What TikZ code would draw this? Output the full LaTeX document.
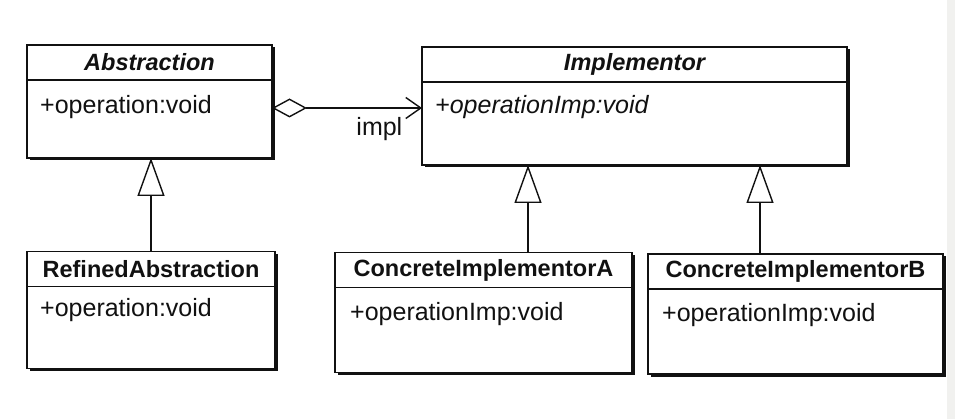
\documentclass[tikz,border=0pt]{standalone}
\usepackage{fontspec}
\setmainfont{Liberation Sans}
\usetikzlibrary{
  arrows.meta,
  positioning,
  shadows
}
\definecolor{umlInk}{HTML}{111111}
\definecolor{umlStrip}{HTML}{F1F1EF}
\tikzset{
  every node/.style={text=umlInk},
  boxline/.style={
    draw=umlInk,
    line width=1.5pt,
    fill=white,
    outer sep=0pt,
    inner sep=0pt,
    drop shadow={shadow xshift=2.5pt, shadow yshift=-2.5pt, fill=umlInk, opacity=1}
  },
  classhead/.style={
    boxline,
    minimum height=35pt,
    font=\fontsize{23.5}{26}\selectfont\bfseries
  },
  classbody/.style={
    boxline
  },
  member/.style={
    inner sep=0pt,
    font=\fontsize{25}{28}\selectfont
  },
  inherit/.style={
    -{Triangle[open, length=38pt, width=27pt]},
    line width=1.4pt,
    draw=umlInk
  },
  aggregate/.style={
    {Diamond[open, length=35pt, width=19pt]}-{Straight Barb[length=15pt, width=21pt]},
    line width=1.4pt,
    draw=umlInk
  }
}

\begin{document}
\begin{tikzpicture}[x=1pt, y=-1pt]
  \useasboundingbox (0,0) rectangle (955,419);
  \fill[umlStrip] (947,0) rectangle (955,419);

  % abstraction side
  \node[classhead, minimum width=245pt] (abshead) at (149.5,62.5) {\itshape Abstraction};
  \node[classbody, minimum width=245pt, minimum height=78pt, below=0pt of abshead] (absbody) {};
  \node[member, below right=15pt and 13pt of absbody.north west] (absop) {+operation:void};

  \node[classhead, minimum width=248pt] (refhead) at (151,269) {RefinedAbstraction};
  \node[classbody, minimum width=248pt, minimum height=82pt, below=0pt of refhead] (refbody) {};
  \node[member, below right=12pt and 13pt of refbody.north west] (refop) {+operation:void};

  % implementor side
  \node[classhead, minimum width=425pt] (implhead) at (634.5,64.5) {\itshape Implementor};
  \node[classbody, minimum width=425pt, minimum height=83pt, below=0pt of implhead] (implbody) {};
  \node[member, below right=13pt and 13pt of implbody.north west] (implop) {\itshape +operationImp:void};

  \node[classhead, minimum width=297pt] (ciahead) at (483.5,270) {ConcreteImplementorA};
  \node[classbody, minimum width=297pt, minimum height=85pt, below=0pt of ciahead] (ciabody) {};
  \node[member, below right=15pt and 15pt of ciabody.north west] (ciaop) {+operationImp:void};

  \node[classhead, minimum width=295pt] (cibhead) at (795.5,271.5) {ConcreteImplementorB};
  \node[classbody, minimum width=295pt, minimum height=85pt, below=0pt of cibhead] (cibbody) {};
  \node[member, below right=14pt and 14pt of cibbody.north west] (cibop) {+operationImp:void};

  \draw[inherit] (refhead.north) -- (refhead.north |- absbody.south);
  \draw[inherit] ([xshift=44.5pt]ciahead.north) -- ([xshift=44.5pt]ciahead.north |- implbody.south);
  \draw[inherit] ([xshift=-35.5pt]cibhead.north) -- ([xshift=-35.5pt]cibhead.north |- implbody.south);

  \draw[aggregate] ([yshift=11pt]absbody.east) -- ([yshift=11pt]absbody.east -| implbody.west)
    node[member, pos=1, anchor=north east, xshift=-19pt, yshift=-9pt] (impllabel) {impl};
\end{tikzpicture}
\end{document}
